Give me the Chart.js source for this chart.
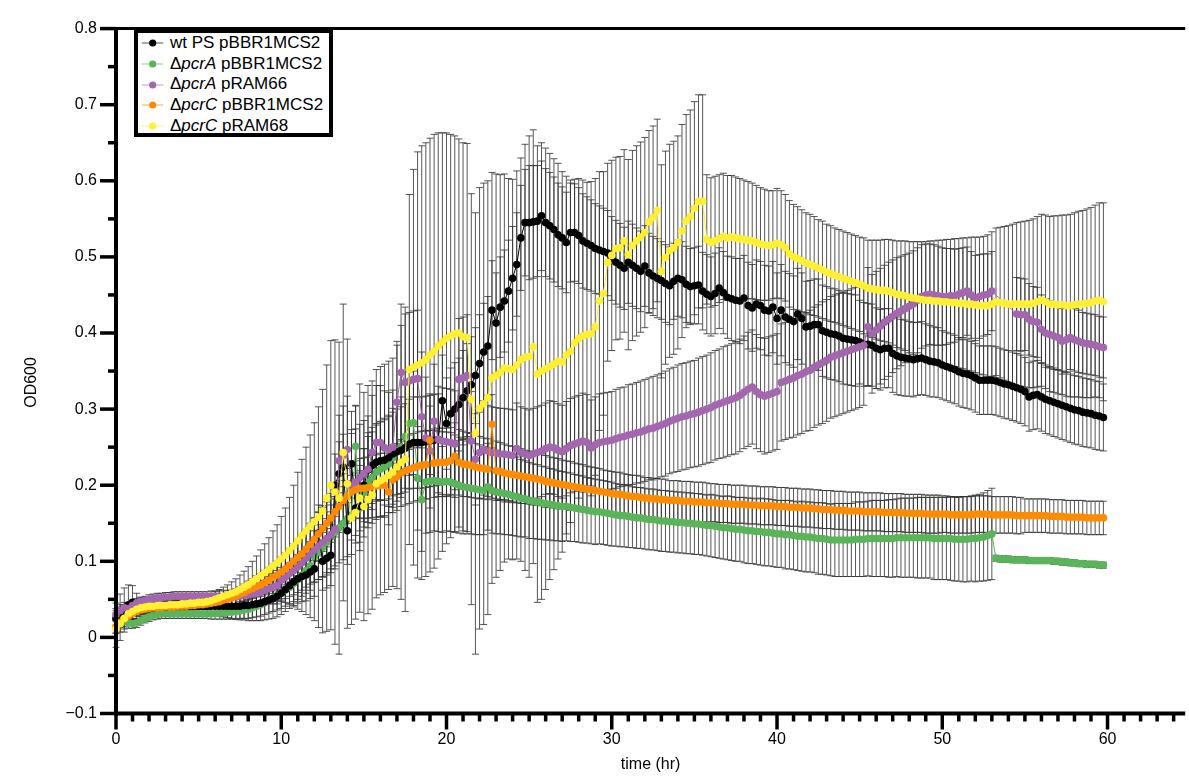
<!DOCTYPE html>
<html>
<head>
<meta charset="utf-8">
<title>OD600 growth curves</title>
<script src="https://cdn.jsdelivr.net/npm/chart.js@4.4.1/dist/chart.umd.min.js"></script>
<style>
  body { margin: 0; background: #fff; }
  #wrap { position: relative; width: 1189px; height: 778px; }
  #legend {
    position: absolute; left: 134px; top: 29px;
    width: 191px; height: 100px;
    border: 4px solid #000; background: #fff;
    font: 17px "Liberation Sans", Arial, Helvetica, sans-serif; color: #000;
  }
  #legend .row { height: 20.7px; line-height: 20.7px; display: flex; align-items: center; white-space: nowrap; }
  #legend svg { flex: none; margin-right: 4px; }
</style>
</head>
<body>
<div id="wrap">
  <canvas id="growthChart" width="1189" height="778"></canvas>
  <div id="legend"></div>
</div>
<script>
// plate reader took a reading every 15 min, 0 - 59.75 hr
const readIntervalHr = 0.25;

// mean OD600 per strain, one row = 5 hr
const odWt = [
  0.025,0.032,0.038,0.043,0.046,0.040,0.038,0.038,0.039,0.039,0.040,0.040,0.040,0.041,0.041,0.041,0.041,0.041,0.041,0.041,
  0.041,0.041,0.041,0.041,0.041,0.041,0.041,0.041,0.041,0.041,0.041,0.042,0.042,0.043,0.044,0.045,0.047,0.049,0.051,0.054,
  0.058,0.063,0.068,0.073,0.077,0.080,0.082,0.086,0.090,0.137,0.100,0.104,0.108,0.200,0.215,0.224,0.140,0.228,0.170,0.172,
  0.200,0.220,0.226,0.230,0.232,0.233,0.236,0.241,0.244,0.246,0.249,0.254,0.256,0.256,0.256,0.257,0.258,0.259,0.260,0.311,
  0.281,0.294,0.300,0.306,0.315,0.324,0.332,0.344,0.360,0.375,0.383,0.430,0.413,0.434,0.442,0.455,0.472,0.490,0.525,0.545,
  0.545,0.546,0.547,0.554,0.545,0.541,0.536,0.529,0.525,0.519,0.532,0.532,0.528,0.521,0.518,0.515,0.511,0.509,0.507,0.505,
  0.498,0.493,0.489,0.485,0.493,0.489,0.485,0.481,0.488,0.479,0.475,0.472,0.469,0.465,0.462,0.468,0.472,0.470,0.464,0.461,
  0.462,0.463,0.455,0.451,0.448,0.452,0.459,0.453,0.447,0.445,0.443,0.442,0.446,0.436,0.433,0.438,0.436,0.430,0.429,0.434,
  0.419,0.430,0.421,0.418,0.415,0.425,0.419,0.408,0.409,0.411,0.411,0.403,0.401,0.399,0.398,0.396,0.393,0.392,0.391,0.390,
  0.388,0.385,0.385,0.384,0.380,0.378,0.380,0.380,0.373,0.370,0.368,0.367,0.366,0.365,0.366,0.367,0.365,0.363,0.362,0.361,
  0.358,0.356,0.354,0.352,0.349,0.347,0.346,0.344,0.341,0.338,0.338,0.338,0.338,0.337,0.335,0.333,0.332,0.330,0.328,0.326,
  0.323,0.316,0.318,0.319,0.316,0.313,0.311,0.309,0.307,0.305,0.303,0.301,0.299,0.298,0.296,0.295,0.294,0.292,0.291,0.289
];
const odPcrA = [
  0.024,0.023,0.021,0.019,0.018,0.019,0.022,0.025,0.027,0.029,0.030,0.031,0.031,0.031,0.031,0.031,0.031,0.031,0.031,0.031,
  0.031,0.031,0.031,0.031,0.031,0.032,0.032,0.033,0.033,0.034,0.035,0.036,0.037,0.039,0.041,0.043,0.046,0.049,0.052,0.055,
  0.058,0.062,0.066,0.071,0.076,0.082,0.088,0.094,0.106,0.112,0.118,0.125,0.132,0.138,0.144,0.150,0.156,0.161,0.251,0.170,
  0.190,0.204,0.210,0.217,0.221,0.224,0.228,0.236,0.245,0.250,0.264,0.281,0.282,0.209,0.181,0.204,0.205,0.206,0.205,0.204,
  0.205,0.204,0.202,0.200,0.198,0.197,0.196,0.195,0.194,0.193,0.198,0.193,0.191,0.190,0.189,0.188,0.186,0.185,0.183,0.182,
  0.180,0.179,0.178,0.177,0.176,0.175,0.174,0.173,0.172,0.172,0.171,0.170,0.169,0.168,0.167,0.166,0.165,0.165,0.164,0.163,
  0.162,0.161,0.160,0.160,0.159,0.158,0.157,0.157,0.156,0.155,0.155,0.154,0.153,0.153,0.152,0.152,0.151,0.151,0.150,0.150,
  0.149,0.149,0.148,0.147,0.147,0.146,0.145,0.144,0.144,0.143,0.142,0.142,0.141,0.140,0.140,0.139,0.139,0.138,0.138,0.137,
  0.136,0.136,0.135,0.135,0.134,0.133,0.133,0.132,0.132,0.131,0.130,0.130,0.129,0.128,0.128,0.128,0.128,0.128,0.128,0.129,
  0.129,0.129,0.130,0.130,0.130,0.130,0.130,0.130,0.130,0.131,0.131,0.131,0.131,0.131,0.131,0.131,0.131,0.131,0.130,0.130,
  0.130,0.130,0.130,0.129,0.129,0.129,0.129,0.130,0.130,0.131,0.132,0.134,0.136,0.104,0.103,0.103,0.103,0.102,0.102,0.102,
  0.102,0.101,0.101,0.101,0.101,0.101,0.101,0.100,0.100,0.099,0.099,0.098,0.098,0.097,0.097,0.096,0.096,0.096,0.095,0.095
];
// a few wells were not read between 53.25 and 54.25 hr
const odPcrAComp = [
  0.030,0.035,0.039,0.038,0.042,0.045,0.047,0.048,0.050,0.051,0.052,0.052,0.053,0.053,0.054,0.054,0.054,0.054,0.054,0.054,
  0.054,0.054,0.054,0.054,0.054,0.054,0.053,0.053,0.053,0.053,0.054,0.055,0.056,0.057,0.058,0.059,0.062,0.064,0.066,0.068,
  0.075,0.079,0.084,0.088,0.093,0.098,0.104,0.110,0.115,0.120,0.125,0.130,0.135,0.142,0.232,0.239,0.247,0.198,0.204,0.210,
  0.215,0.221,0.243,0.256,0.256,0.249,0.247,0.250,0.309,0.348,0.335,0.337,0.339,0.340,0.290,0.262,0.245,0.284,0.260,0.258,
  0.257,0.256,0.254,0.339,0.341,0.344,0.258,0.234,0.243,0.247,0.245,0.243,0.242,0.241,0.241,0.240,0.239,0.248,0.243,0.241,
  0.239,0.241,0.243,0.245,0.248,0.250,0.249,0.246,0.244,0.248,0.252,0.254,0.256,0.258,0.256,0.249,0.253,0.256,0.257,0.258,
  0.259,0.261,0.263,0.264,0.266,0.267,0.269,0.270,0.272,0.274,0.275,0.277,0.279,0.281,0.284,0.286,0.288,0.290,0.291,0.293,
  0.294,0.296,0.298,0.300,0.302,0.305,0.307,0.309,0.311,0.313,0.315,0.318,0.322,0.326,0.329,0.323,0.319,0.317,0.319,0.321,
  0.323,0.335,0.337,0.339,0.341,0.344,0.346,0.349,0.351,0.355,0.358,0.361,0.364,0.368,0.370,0.372,0.374,0.376,0.378,0.380,
  0.382,0.384,0.408,0.399,0.404,0.409,0.414,0.418,0.422,0.426,0.429,0.432,0.435,0.438,0.443,0.448,0.450,0.451,0.450,0.449,
  0.448,0.448,0.449,0.449,0.451,0.453,0.455,0.450,0.446,0.448,0.450,0.451,0.455,null,null,null,null,null,0.425,0.424,
  0.424,0.418,0.415,0.414,0.405,0.400,0.398,0.396,0.394,0.389,0.391,0.394,0.391,0.389,0.387,0.386,0.385,0.384,0.382,0.381
];
const odPcrC = [
  0.014,0.020,0.024,0.028,0.031,0.034,0.036,0.037,0.038,0.039,0.039,0.039,0.040,0.040,0.040,0.041,0.041,0.041,0.042,0.042,
  0.043,0.043,0.044,0.045,0.046,0.047,0.049,0.050,0.052,0.054,0.057,0.059,0.062,0.064,0.067,0.069,0.072,0.075,0.079,0.082,
  0.086,0.090,0.095,0.100,0.105,0.110,0.116,0.122,0.129,0.136,0.143,0.150,0.157,0.165,0.172,0.180,0.186,0.191,0.194,0.196,
  0.196,0.197,0.198,0.199,0.200,0.200,0.191,0.207,0.211,0.216,0.219,0.221,0.223,0.225,0.226,0.227,0.259,0.229,0.230,0.230,
  0.230,0.232,0.238,0.230,0.228,0.227,0.226,0.224,0.223,0.222,0.221,0.280,0.219,0.218,0.216,0.215,0.214,0.213,0.212,0.211,
  0.210,0.209,0.208,0.207,0.205,0.204,0.203,0.202,0.201,0.200,0.199,0.198,0.197,0.196,0.195,0.194,0.193,0.192,0.191,0.190,
  0.189,0.188,0.188,0.187,0.186,0.185,0.185,0.184,0.183,0.183,0.182,0.182,0.181,0.181,0.180,0.180,0.180,0.179,0.179,0.179,
  0.178,0.178,0.178,0.177,0.177,0.177,0.176,0.176,0.176,0.175,0.175,0.175,0.175,0.174,0.174,0.174,0.173,0.173,0.173,0.173,
  0.172,0.172,0.172,0.171,0.171,0.171,0.170,0.170,0.170,0.169,0.169,0.168,0.168,0.168,0.167,0.167,0.167,0.166,0.166,0.166,
  0.166,0.165,0.165,0.165,0.165,0.165,0.164,0.164,0.164,0.164,0.164,0.163,0.163,0.163,0.163,0.163,0.162,0.162,0.162,0.162,
  0.162,0.162,0.161,0.161,0.161,0.161,0.161,0.161,0.162,0.162,0.162,0.162,0.161,0.161,0.161,0.161,0.161,0.161,0.160,0.160,
  0.160,0.160,0.160,0.160,0.160,0.160,0.159,0.159,0.159,0.159,0.158,0.158,0.158,0.158,0.158,0.157,0.157,0.157,0.157,0.157
];
const odPcrCComp = [
  0.011,0.018,0.025,0.031,0.034,0.037,0.039,0.040,0.041,0.041,0.042,0.042,0.042,0.043,0.043,0.043,0.044,0.044,0.045,0.045,
  0.046,0.046,0.047,0.048,0.050,0.052,0.054,0.056,0.058,0.060,0.063,0.066,0.069,0.073,0.077,0.081,0.085,0.089,0.094,0.098,
  0.103,0.108,0.114,0.120,0.127,0.134,0.140,0.146,0.152,0.158,0.166,0.183,0.200,0.191,0.183,0.243,0.202,0.157,0.164,0.183,
  0.172,0.181,0.187,0.202,0.206,0.209,0.213,0.217,0.224,0.230,0.234,0.352,0.355,0.358,0.361,0.365,0.371,0.376,0.383,0.388,
  0.393,0.396,0.399,0.400,0.395,0.394,0.313,0.268,0.301,0.307,0.315,0.341,0.344,0.348,0.354,0.353,0.352,0.358,0.365,0.368,
  0.369,0.382,0.346,0.350,0.353,0.356,0.359,0.363,0.362,0.371,0.376,0.387,0.393,0.396,0.398,0.399,0.408,0.442,0.452,0.493,
  0.502,0.511,0.512,0.521,0.503,0.515,0.521,0.526,0.532,0.546,0.552,0.561,0.481,0.499,0.508,0.512,0.519,0.534,0.547,0.553,
  0.564,0.573,0.573,0.523,0.519,0.521,0.524,0.527,0.525,0.526,0.525,0.524,0.523,0.522,0.521,0.519,0.517,0.516,0.515,0.516,
  0.518,0.516,0.512,0.504,0.500,0.498,0.495,0.492,0.490,0.488,0.485,0.483,0.480,0.478,0.476,0.474,0.472,0.470,0.468,0.466,
  0.464,0.462,0.459,0.458,0.457,0.456,0.456,0.455,0.453,0.451,0.450,0.449,0.447,0.446,0.445,0.444,0.443,0.443,0.442,0.442,
  0.441,0.441,0.440,0.440,0.439,0.439,0.438,0.438,0.437,0.436,0.436,0.436,0.438,0.441,0.440,0.439,0.438,0.438,0.438,0.438,
  0.438,0.438,0.439,0.441,0.443,0.441,0.438,0.438,0.437,0.437,0.436,0.436,0.437,0.438,0.438,0.439,0.440,0.442,0.443,0.441
];

// standard deviation of the replicate wells
const sdWt = [
  0.020,0.025,0.027,0.026,0.022,0.018,0.014,0.011,0.010,0.009,0.009,0.008,0.008,0.008,0.008,0.008,0.008,0.008,0.009,0.009,
  0.009,0.010,0.010,0.011,0.012,0.013,0.014,0.015,0.016,0.017,0.018,0.019,0.020,0.021,0.022,0.023,0.024,0.025,0.026,0.027,
  0.028,0.029,0.030,0.031,0.032,0.033,0.034,0.035,0.036,0.037,0.038,0.039,0.040,0.041,0.042,0.043,0.044,0.045,0.046,0.047,
  0.048,0.049,0.050,0.051,0.052,0.053,0.054,0.055,0.056,0.057,0.058,0.059,0.060,0.060,0.060,0.060,0.060,0.060,0.060,0.060,
  0.060,0.060,0.061,0.061,0.062,0.062,0.063,0.063,0.064,0.064,0.065,0.065,0.066,0.066,0.067,0.067,0.068,0.068,0.069,0.070,
  0.075,0.074,0.073,0.072,0.071,0.070,0.069,0.068,0.067,0.066,0.065,0.064,0.063,0.062,0.061,0.060,0.059,0.058,0.057,0.056,
  0.055,0.055,0.055,0.054,0.054,0.054,0.053,0.053,0.053,0.052,0.052,0.052,0.051,0.051,0.051,0.050,0.050,0.050,0.050,0.050,
  0.050,0.051,0.051,0.052,0.052,0.053,0.053,0.054,0.054,0.055,0.055,0.056,0.056,0.057,0.057,0.058,0.058,0.059,0.059,0.060,
  0.060,0.060,0.060,0.060,0.060,0.060,0.060,0.060,0.060,0.060,0.060,0.060,0.060,0.060,0.060,0.060,0.060,0.060,0.060,0.060,
  0.055,0.055,0.054,0.054,0.053,0.053,0.052,0.052,0.051,0.051,0.050,0.050,0.049,0.049,0.048,0.048,0.047,0.047,0.046,0.046,
  0.045,0.045,0.045,0.045,0.045,0.045,0.045,0.045,0.045,0.045,0.045,0.045,0.045,0.045,0.045,0.045,0.045,0.045,0.045,0.045,
  0.045,0.045,0.045,0.045,0.045,0.045,0.045,0.045,0.045,0.045,0.045,0.045,0.045,0.045,0.045,0.045,0.045,0.045,0.045,0.044
];
const sdPcrA = [
  0.008,0.008,0.007,0.007,0.006,0.006,0.006,0.006,0.006,0.006,0.006,0.006,0.006,0.006,0.006,0.006,0.006,0.006,0.006,0.006,
  0.006,0.006,0.006,0.007,0.007,0.008,0.008,0.009,0.009,0.010,0.010,0.011,0.012,0.013,0.014,0.015,0.016,0.017,0.018,0.019,
  0.020,0.021,0.022,0.024,0.026,0.028,0.030,0.032,0.034,0.036,0.038,0.040,0.042,0.044,0.046,0.048,0.050,0.052,0.054,0.056,
  0.058,0.060,0.060,0.062,0.062,0.064,0.064,0.065,0.066,0.066,0.068,0.068,0.068,0.068,0.068,0.067,0.067,0.066,0.066,0.066,
  0.065,0.065,0.064,0.063,0.062,0.061,0.060,0.060,0.059,0.058,0.057,0.056,0.055,0.054,0.054,0.053,0.052,0.052,0.051,0.050,
  0.050,0.049,0.049,0.048,0.048,0.047,0.047,0.046,0.046,0.045,0.045,0.044,0.044,0.044,0.043,0.043,0.043,0.042,0.042,0.042,
  0.042,0.041,0.041,0.041,0.041,0.040,0.040,0.040,0.040,0.040,0.040,0.040,0.040,0.040,0.040,0.040,0.040,0.040,0.040,0.040,
  0.040,0.040,0.040,0.040,0.041,0.041,0.041,0.041,0.042,0.042,0.042,0.042,0.043,0.043,0.043,0.043,0.044,0.044,0.044,0.044,
  0.044,0.044,0.045,0.045,0.045,0.045,0.046,0.046,0.046,0.046,0.047,0.047,0.047,0.047,0.048,0.048,0.048,0.048,0.048,0.049,
  0.049,0.049,0.049,0.050,0.050,0.050,0.050,0.051,0.051,0.051,0.052,0.052,0.052,0.052,0.053,0.053,0.053,0.053,0.054,0.054,
  0.054,0.054,0.055,0.055,0.055,0.056,0.056,0.056,0.057,0.057,0.058,0.059,0.060,0.004,0.004,0.004,0.004,0.004,0.004,0.004,
  0.004,0.004,0.004,0.004,0.004,0.004,0.004,0.004,0.004,0.004,0.004,0.004,0.004,0.004,0.004,0.004,0.004,0.004,0.004,0.004
];
const sdPcrAComp = [
  0.008,0.008,0.007,0.007,0.007,0.006,0.006,0.006,0.006,0.006,0.006,0.006,0.006,0.006,0.006,0.006,0.006,0.006,0.006,0.006,
  0.006,0.006,0.006,0.007,0.007,0.008,0.008,0.009,0.009,0.010,0.011,0.012,0.013,0.014,0.015,0.016,0.018,0.020,0.022,0.024,
  0.026,0.028,0.030,0.032,0.034,0.036,0.038,0.040,0.042,0.044,0.046,0.048,0.050,0.052,0.060,0.065,0.070,0.070,0.070,0.070,
  0.070,0.070,0.075,0.075,0.075,0.075,0.075,0.075,0.080,0.090,0.090,0.090,0.090,0.090,0.085,0.080,0.075,0.075,0.070,0.070,
  0.070,0.070,0.070,0.080,0.080,0.080,0.065,0.060,0.060,0.060,0.060,0.060,0.060,0.060,0.060,0.060,0.060,0.060,0.060,0.060,
  0.060,0.060,0.060,0.060,0.060,0.061,0.061,0.061,0.061,0.062,0.062,0.062,0.062,0.063,0.063,0.063,0.063,0.064,0.064,0.064,
  0.064,0.065,0.065,0.065,0.066,0.066,0.066,0.067,0.067,0.067,0.068,0.068,0.068,0.069,0.069,0.069,0.070,0.070,0.070,0.070,
  0.070,0.071,0.071,0.071,0.072,0.072,0.072,0.073,0.073,0.073,0.074,0.074,0.074,0.075,0.075,0.075,0.075,0.076,0.076,0.076,
  0.076,0.077,0.077,0.077,0.078,0.078,0.078,0.078,0.079,0.079,0.079,0.080,0.080,0.080,0.080,0.080,0.080,0.080,0.080,0.080,
  0.080,0.079,0.078,0.078,0.077,0.076,0.075,0.075,0.074,0.073,0.072,0.071,0.070,0.070,0.069,0.068,0.067,0.066,0.066,0.065,
  0.064,0.063,0.062,0.061,0.060,0.059,0.058,0.057,0.056,0.055,0.054,0.053,0.052,null,null,null,null,null,0.048,0.048,
  0.047,0.047,0.046,0.046,0.045,0.045,0.044,0.044,0.043,0.043,0.042,0.042,0.041,0.041,0.040,0.040,0.040,0.040,0.040,0.040
];
const sdPcrC = [
  0.008,0.007,0.007,0.006,0.006,0.006,0.006,0.006,0.006,0.006,0.006,0.006,0.006,0.006,0.006,0.006,0.006,0.006,0.006,0.006,
  0.006,0.006,0.007,0.007,0.007,0.008,0.008,0.009,0.009,0.010,0.010,0.011,0.012,0.013,0.014,0.015,0.016,0.017,0.018,0.019,
  0.020,0.021,0.022,0.023,0.024,0.025,0.026,0.027,0.028,0.029,0.030,0.031,0.032,0.033,0.034,0.035,0.036,0.037,0.038,0.039,
  0.040,0.040,0.041,0.041,0.042,0.042,0.043,0.043,0.044,0.044,0.045,0.045,0.045,0.045,0.045,0.045,0.045,0.045,0.045,0.045,
  0.045,0.044,0.044,0.043,0.043,0.042,0.042,0.041,0.041,0.040,0.040,0.039,0.039,0.038,0.038,0.037,0.037,0.036,0.036,0.035,
  0.035,0.035,0.034,0.034,0.034,0.033,0.033,0.033,0.032,0.032,0.032,0.031,0.031,0.031,0.030,0.030,0.030,0.030,0.029,0.029,
  0.029,0.029,0.029,0.028,0.028,0.028,0.028,0.028,0.027,0.027,0.027,0.027,0.027,0.027,0.026,0.026,0.026,0.026,0.026,0.026,
  0.026,0.026,0.026,0.026,0.025,0.025,0.025,0.025,0.025,0.025,0.025,0.025,0.025,0.025,0.025,0.025,0.025,0.025,0.025,0.025,
  0.025,0.025,0.025,0.025,0.025,0.025,0.025,0.025,0.025,0.025,0.025,0.025,0.025,0.025,0.025,0.025,0.025,0.025,0.025,0.025,
  0.025,0.025,0.025,0.025,0.025,0.025,0.025,0.025,0.025,0.025,0.025,0.025,0.025,0.025,0.025,0.025,0.025,0.025,0.025,0.025,
  0.024,0.024,0.024,0.024,0.024,0.024,0.024,0.024,0.024,0.024,0.024,0.024,0.024,0.024,0.024,0.024,0.024,0.024,0.024,0.024,
  0.022,0.022,0.022,0.022,0.022,0.022,0.022,0.022,0.022,0.022,0.022,0.022,0.022,0.022,0.022,0.022,0.022,0.022,0.022,0.022
];
const sdPcrCComp = [
  0.024,0.022,0.018,0.014,0.011,0.009,0.008,0.008,0.007,0.007,0.007,0.007,0.007,0.007,0.007,0.007,0.007,0.007,0.007,0.008,
  0.008,0.008,0.009,0.009,0.010,0.011,0.012,0.013,0.015,0.017,0.019,0.021,0.024,0.027,0.030,0.034,0.038,0.042,0.046,0.050,
  0.056,0.062,0.070,0.080,0.090,0.100,0.110,0.120,0.130,0.145,0.160,0.175,0.190,0.200,0.205,0.195,0.190,0.140,0.140,0.150,
  0.150,0.150,0.150,0.150,0.150,0.150,0.150,0.150,0.160,0.180,0.200,0.230,0.260,0.280,0.285,0.285,0.285,0.285,0.280,0.275,
  0.270,0.265,0.260,0.255,0.255,0.255,0.270,0.290,0.290,0.290,0.285,0.270,0.265,0.260,0.255,0.250,0.250,0.255,0.265,0.280,
  0.290,0.285,0.300,0.300,0.290,0.280,0.270,0.260,0.250,0.235,0.225,0.215,0.210,0.205,0.200,0.200,0.195,0.170,0.160,0.130,
  0.125,0.120,0.120,0.120,0.125,0.125,0.125,0.125,0.125,0.120,0.120,0.120,0.140,0.140,0.140,0.140,0.140,0.140,0.140,0.140,
  0.140,0.140,0.140,0.085,0.085,0.085,0.084,0.083,0.082,0.081,0.080,0.079,0.078,0.077,0.076,0.075,0.074,0.073,0.072,0.071,
  0.072,0.071,0.070,0.070,0.069,0.068,0.067,0.066,0.066,0.065,0.064,0.064,0.063,0.063,0.062,0.062,0.062,0.062,0.062,0.062,
  0.062,0.063,0.063,0.064,0.065,0.066,0.067,0.068,0.069,0.070,0.071,0.072,0.073,0.074,0.075,0.076,0.077,0.078,0.079,0.080,
  0.081,0.082,0.083,0.084,0.085,0.086,0.087,0.088,0.089,0.090,0.091,0.093,0.095,0.097,0.099,0.101,0.103,0.105,0.107,0.108,
  0.109,0.110,0.111,0.112,0.113,0.114,0.115,0.116,0.117,0.118,0.119,0.120,0.121,0.122,0.123,0.124,0.125,0.126,0.128,0.130
];

const timeHr = odWt.map((_, i) => i * readIntervalHr);

// legend text pieces: plain prefix, italic gene name, plasmid
// order: higher number is painted first (further back)
const strains = [
  { pre: 'wt PS', gene: '', plasmid: ' pBBR1MCS2', color: '#000000', od: odWt, sd: sdWt, order: 4 },
  { pre: '\u0394', gene: 'pcrA', plasmid: ' pBBR1MCS2', color: '#5AB55A', od: odPcrA, sd: sdPcrA, order: 5 },
  { pre: '\u0394', gene: 'pcrA', plasmid: ' pRAM66', color: '#A566B0', od: odPcrAComp, sd: sdPcrAComp, order: 3 },
  { pre: '\u0394', gene: 'pcrC', plasmid: ' pBBR1MCS2', color: '#FF8C00', od: odPcrC, sd: sdPcrC, order: 2 },
  { pre: '\u0394', gene: 'pcrC', plasmid: ' pRAM68', color: '#FFF033', od: odPcrCComp, sd: sdPcrCComp, order: 1 }
];

const fontFamily = '"Liberation Sans", Arial, Helvetica, sans-serif';

// vertical SD bars with caps, under the points
const errorBars = {
  id: 'errorBars',
  beforeDatasetsDraw(chart) {
    const { ctx, scales: { x, y } } = chart;
    ctx.save();
    ctx.strokeStyle = 'rgba(45,45,45,0.8)';
    ctx.lineWidth = 1;
    chart.data.datasets.forEach(ds => {
      ds.data.forEach((pt, i) => {
        const sd = ds.sd[i];
        if (pt.y === null || sd === null) return;
        const px = x.getPixelForValue(pt.x);
        const top = y.getPixelForValue(pt.y + sd);
        const bot = y.getPixelForValue(pt.y - sd);
        ctx.beginPath();
        ctx.moveTo(px, top); ctx.lineTo(px, bot);
        ctx.moveTo(px - 3.5, top); ctx.lineTo(px + 3.5, top);
        ctx.moveTo(px - 3.5, bot); ctx.lineTo(px + 3.5, bot);
        ctx.stroke();
      });
    });
    ctx.restore();
  }
};

// heavy axis lines, top rule, major and minor tick marks, y title
const axisFrame = {
  id: 'axisFrame',
  afterDraw(chart) {
    const { ctx, chartArea: a, scales: { x, y } } = chart;
    const seg = (x1, y1, x2, y2) => { ctx.beginPath(); ctx.moveTo(x1, y1); ctx.lineTo(x2, y2); ctx.stroke(); };
    ctx.save();
    ctx.strokeStyle = '#000';
    ctx.lineWidth = 4;
    seg(a.left, a.top - 1.5, a.left, a.bottom + 2);
    seg(a.left - 2, a.bottom, a.right, a.bottom);
    ctx.lineWidth = 3;
    seg(a.left - 16, a.top, a.right, a.top);
    ctx.lineWidth = 3.5;
    y.ticks.forEach(t => {
      const py = y.getPixelForValue(t.value);
      seg(a.left - 16, py, a.left, py);
      if (t.value + 0.05 < y.max) {
        const pm = y.getPixelForValue(t.value + 0.05);
        seg(a.left - 8, pm, a.left, pm);
      }
    });
    for (let hr = Math.ceil(x.min); hr <= x.max; hr++) {
      const px = x.getPixelForValue(hr);
      seg(px, a.bottom, px, a.bottom + (hr % 10 === 0 ? 16 : 8));
    }
    ctx.translate(32, y.getPixelForValue(0.335));
    ctx.rotate(-Math.PI / 2);
    ctx.fillStyle = '#000';
    ctx.font = '16px ' + fontFamily;
    ctx.textAlign = 'center';
    ctx.textBaseline = 'middle';
    ctx.fillText('OD600', 0, 0);
    ctx.restore();
  }
};

const datasets = strains.map(s => ({
  label: (s.pre + s.gene + s.plasmid).trim(),
  data: s.od.map((v, i) => ({ x: timeHr[i], y: v })),
  sd: s.sd,
  order: s.order,
  borderColor: s.color,
  backgroundColor: s.color,
  borderWidth: 1,
  pointRadius: 3.8,
  pointBorderWidth: 0,
  pointBackgroundColor: s.color,
  pointHoverRadius: 3.8,
  spanGaps: true,
  tension: 0,
  clip: false
}));

new Chart(document.getElementById('growthChart').getContext('2d'), {
  type: 'line',
  data: { datasets },
  options: {
    responsive: false,
    animation: false,
    devicePixelRatio: 1,
    layout: { padding: { top: 13, right: 0, bottom: 0, left: 0 } },
    plugins: { legend: { display: false }, tooltip: { enabled: false } },
    scales: {
      x: {
        type: 'linear', min: 0, max: 64.7,
        afterFit: s => { s.height = 64.5; },
        grid: { display: false, drawTicks: false },
        border: { display: false },
        ticks: { stepSize: 10, includeBounds: false, padding: 16, color: '#000', font: { family: fontFamily, size: 16 } },
        title: { display: true, text: 'time (hr)', color: '#000', font: { family: fontFamily, size: 16 }, padding: { top: 0, bottom: 4 } }
      },
      y: {
        type: 'linear', min: -0.1, max: 0.8,
        afterFit: s => { s.width = 116; },
        grid: { display: false, drawTicks: false },
        border: { display: false },
        ticks: {
          stepSize: 0.1, padding: 19, color: '#000', font: { family: fontFamily, size: 16 },
          callback: v => (Math.round(v * 100) / 100).toString().replace('-', '\u2212')
        }
      }
    }
  },
  plugins: [errorBars, axisFrame]
});

// boxed legend with italic gene names
const legendBox = document.getElementById('legend');
strains.forEach(s => {
  const row = document.createElement('div');
  row.className = 'row';
  const name = s.gene ? `${s.pre}<i>${s.gene}</i>${s.plasmid}` : `${s.pre}${s.plasmid}`;
  row.innerHTML =
    `<svg width="28" height="20"><line x1="3.7" y1="10" x2="25.3" y2="10" stroke="${s.color}" stroke-opacity="0.45" stroke-width="1.5"/>` +
    `<circle cx="14.7" cy="10" r="3.6" fill="${s.color}"/></svg><span>${name}</span>`;
  legendBox.appendChild(row);
});
</script>
</body>
</html>
